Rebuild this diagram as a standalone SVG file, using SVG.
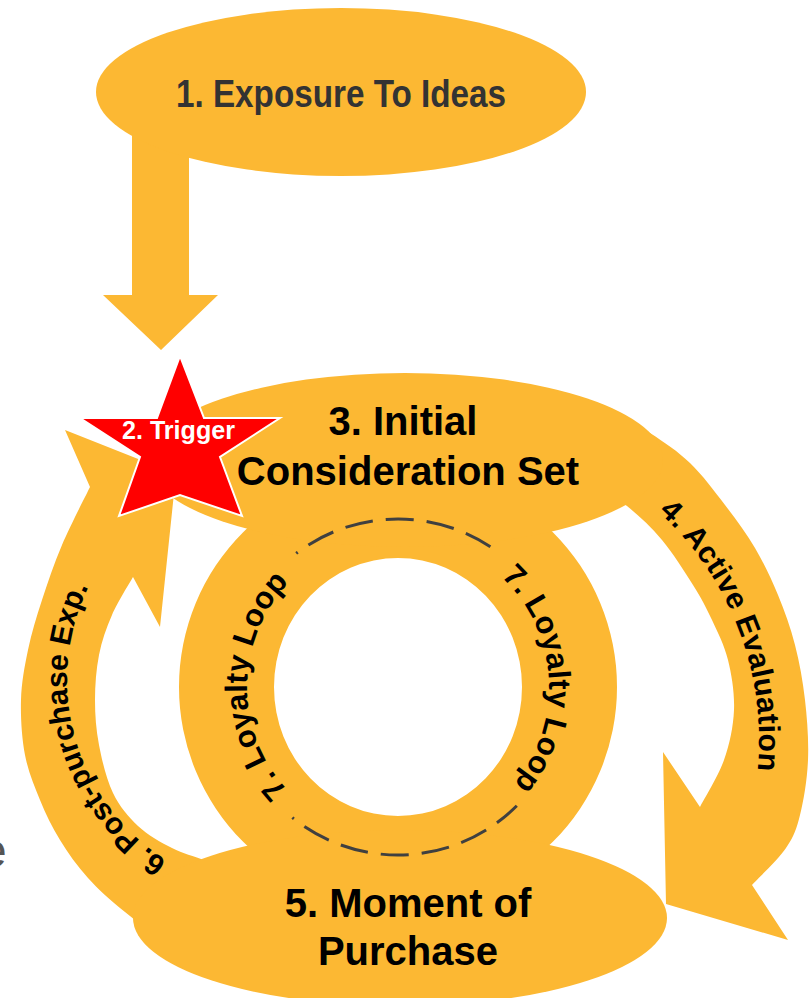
<svg xmlns="http://www.w3.org/2000/svg" width="809" height="998" viewBox="0 0 809 998">
  <style>
    .shape { fill: #FCB833; }
    .lbl { font-family: "Liberation Sans", Arial, sans-serif; font-weight: bold; fill: #000; }
    .big { font-size: 40px; text-anchor: middle; }
    .arc { font-size: 30px; }
    .ring-lbl { font-size: 31px; }
    .dash { fill: none; stroke: #404040; stroke-width: 3; stroke-dasharray: 28 13; stroke-dashoffset: 26; }
  </style>
  <defs>
    <!-- baselines for the curved labels -->
    <path id="path-eval" d="M658.4,511.8 A309,309 0 0 1 757.5,770.2"/>
    <path id="path-post" d="M167.1,860.6 A213,213 0 0 1 88.6,586.6"/>
    <path id="path-loop-right" d="M501,576.6 A151,151 0 0 1 513.7,784.1"/>
    <path id="path-loop-left" d="M287.6,790 A151,151 0 0 1 289.4,582.1"/>
  </defs>

  <rect width="809" height="998" fill="#fff"/>

  <!-- connectors: drop arrow, evaluation arc, post-purchase arc -->
  <g id="connectors" class="shape">
    <polygon id="arrow-exposure-trigger" points="132,120 189,120 189,295 218,295 161,350 103,295 132,295"/>
    <path id="arrow-active-evaluation" d="M600,404
      C608.3,408.8 635,423.2 650,433
      C665,442.8 677.5,451 690,463
      C702.5,475 714.2,490.8 725,505
      C735.8,519.2 746.2,533 755,548
      C763.8,563 771.3,578.8 778,595
      C784.7,611.2 790.5,627.5 795,645
      C799.5,662.5 802.8,680.8 805,700
      C807.2,719.2 808.8,740.8 808,760
      C807.2,779.2 803.7,800.3 800,815
      C796.3,829.7 794,836.3 786,848
      C778,859.7 757.7,878.8 752,885
      L788,940 L666,904 L663,752 L700,807
      C704,799.2 718.3,776.2 724,760
      C729.7,743.8 733.3,726.7 734,710
      C734.7,693.3 731.7,675 728,660
      C724.3,645 717.8,632.5 712,620
      C706.2,607.5 701.3,598.3 693,585
      C684.7,571.7 673,553.2 662,540
      C651,526.8 639,515.7 627,506
      C615,496.3 596.2,486.3 590,482
      L560,440 Z"/>
    <path id="arrow-post-purchase" d="M320,995
      C308.3,992.5 272.2,986.2 250,980
      C227.8,973.8 207.8,969.3 187,958
      C166.2,946.7 141.5,925.3 125,912
      C108.5,898.7 98.8,890 88,878
      C77.2,866 68,853 60,840
      C52,827 45.8,814.2 40,800
      C34.2,785.8 28.2,771.7 25,755
      C21.8,738.3 20.5,717.5 21,700
      C21.5,682.5 24.5,666.7 28,650
      C31.5,633.3 36.3,617.5 42,600
      C47.7,582.5 54,563.8 62,545
      C70,526.2 85.3,496.7 90,487
      L65,430 L176,474 L160,627 L133,577
      C129.5,583.3 117.7,602 112,615
      C106.3,628 101.8,640.8 99,655
      C96.2,669.2 95,685 95,700
      C95,715 96,729.5 99,745
      C102,760.5 106.5,779.5 113,793
      C119.5,806.5 128.2,816.8 138,826
      C147.8,835.2 160.5,842.2 172,848
      C183.5,853.8 192.3,855.7 207,861
      C221.7,866.3 251.2,876.8 260,880
      L330,960 Z"/>
  </g>

  <!-- 7. loyalty loop ring -->
  <g id="node-loyalty">
    <path class="shape" fill-rule="evenodd" d="M617,687 A219,219 0 1 1 179,687 A219,219 0 1 1 617,687 Z M522,687 A124,129 0 1 0 274,687 A124,129 0 1 0 522,687 Z"/>
    <text class="lbl ring-lbl"><textPath href="#path-loop-right" textLength="229">7. Loyalty Loop</textPath></text>
    <text class="lbl ring-lbl"><textPath href="#path-loop-left" textLength="229">7. Loyalty Loop</textPath></text>
  </g>

  <!-- 1. exposure -->
  <g id="node-exposure">
    <ellipse class="shape" cx="341" cy="92" rx="245" ry="84"/>
    <text class="lbl" x="176" y="107" font-size="39" style="fill:#333" textLength="330" lengthAdjust="spacingAndGlyphs">1. Exposure To Ideas</text>
  </g>

  <!-- 3. initial consideration set -->
  <g id="node-consideration">
    <ellipse class="shape" cx="405" cy="460" rx="258" ry="87"/>
    <text class="lbl big" x="403" y="435">3. Initial</text>
    <text class="lbl big" x="408" y="485">Consideration Set</text>
  </g>

  <!-- 5. moment of purchase -->
  <g id="node-purchase">
    <ellipse class="shape" cx="400" cy="918" rx="267" ry="88"/>
    <text class="lbl big" x="408" y="917">5. Moment of</text>
    <text class="lbl big" x="408" y="965">Purchase</text>
  </g>

  <!-- dashed track of the loyalty loop, above the neighbouring ellipses -->
  <g id="loyalty-track">
    <path class="dash" d="M296.2,553.4 A168,168 0 0 1 491.9,547.7"/>
    <path class="dash" d="M292.3,817.6 A168,168 0 0 0 516.8,805.8"/>
  </g>

  <!-- labels carried by the arcs -->
  <g id="connector-labels">
    <text class="lbl" font-size="30"><textPath href="#path-eval" textLength="287">4. Active Evaluation</textPath></text>
    <text class="lbl arc"><textPath href="#path-post" textLength="312">6. Post-purchase Exp.</textPath></text>
  </g>

  <!-- 2. trigger -->
  <g id="node-trigger">
    <polygon points="180,356 204,418 280,418 220,457 242,516 180,495 119,516 140,457 80,418 157,418" fill="#FF0000" stroke="#fff" stroke-width="2"/>
    <text class="lbl" x="122" y="439" font-size="25" style="fill:#fff" textLength="113" lengthAdjust="spacingAndGlyphs">2. Trigger</text>
  </g>

  <!-- stray glyph at the left margin -->
  <text x="-20" y="867" font-family="Liberation Sans, Arial, sans-serif" font-size="48" fill="#555">e</text>
</svg>
